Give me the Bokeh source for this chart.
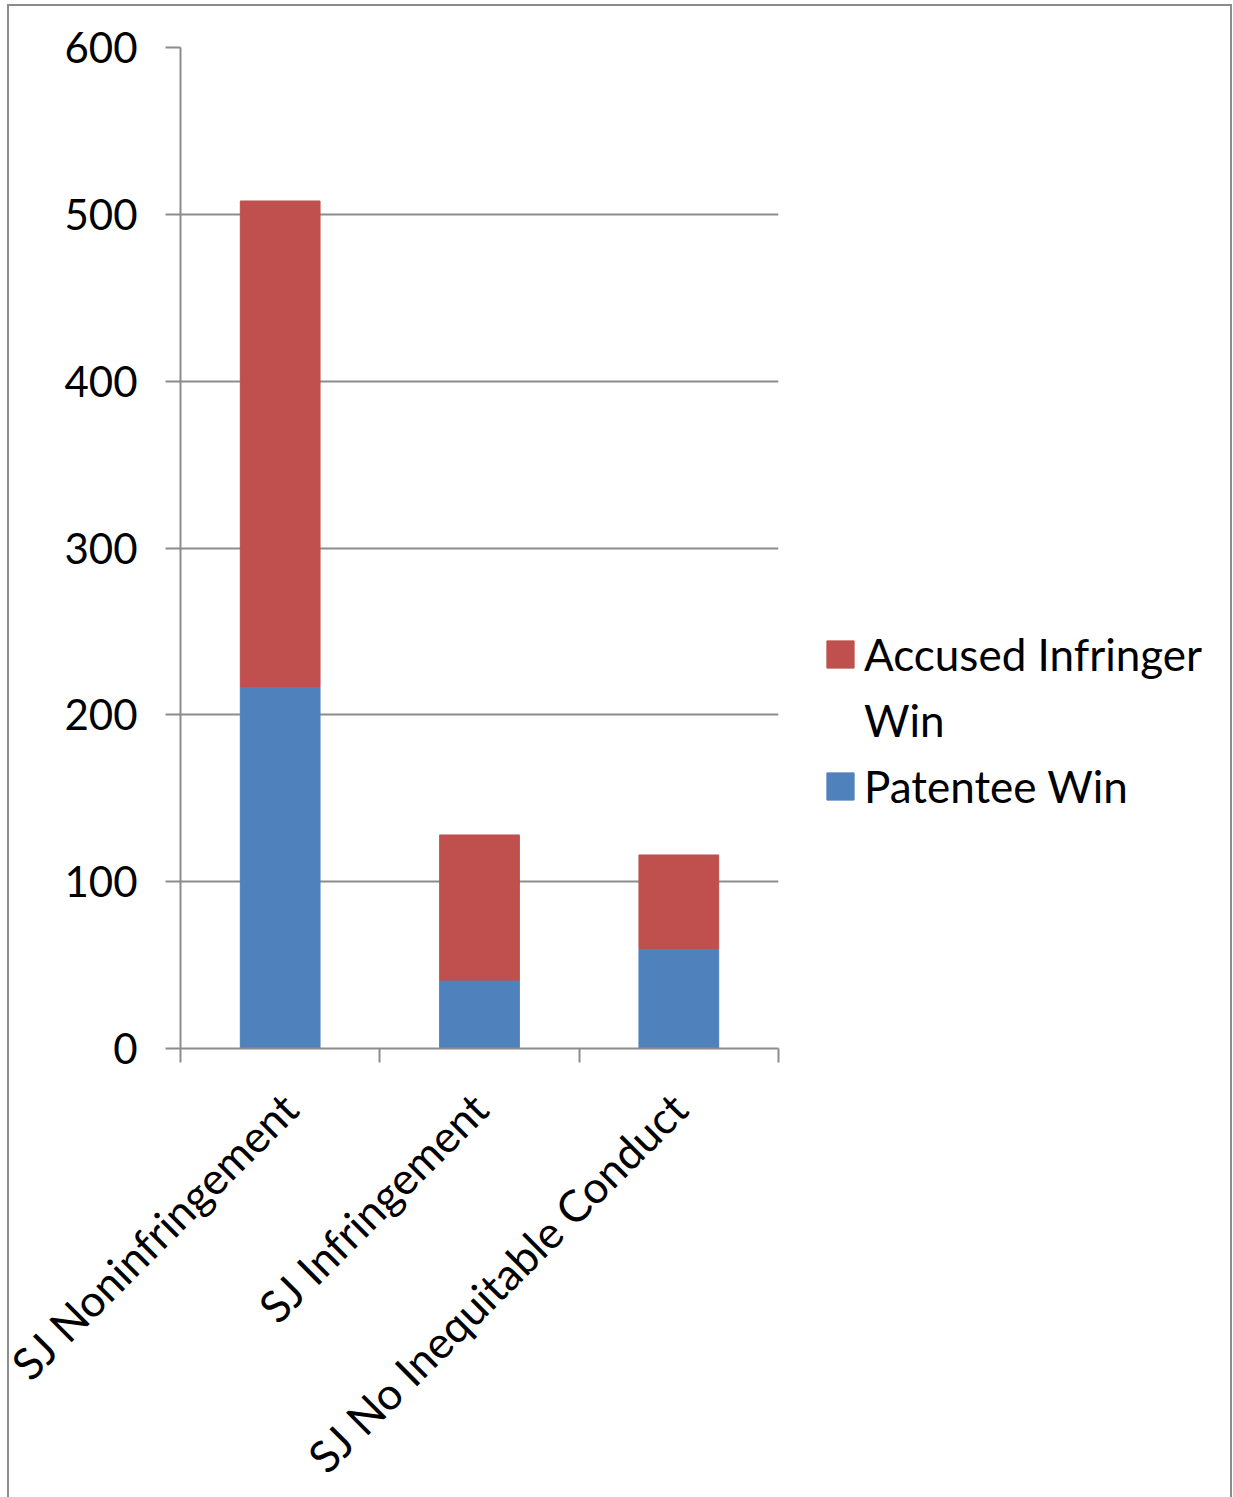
import math
from bokeh.plotting import figure
from bokeh.models import (ColumnDataSource, Range1d, FixedTicker, Legend, LegendItem)
from bokeh.embed import file_html
from bokeh.resources import INLINE

# Summary-judgment outcomes by motion type
categories = ["SJ Noninfringement", "SJ Infringement", "SJ No Inequitable Conduct"]
patentee_win = [217, 41, 60]
accused_infringer_win = [291, 87, 56]
y_ticks = [0, 100, 200, 300, 400, 500, 600]

RED = "#C0504D"
BLUE = "#4F81BD"
GRID = "#8C8C8C"
FONT = "Lato"

xs = [i + 0.5 for i in range(len(categories))]
totals = [a + b for a, b in zip(patentee_win, accused_infringer_win)]
src = ColumnDataSource(dict(x=xs, pat=patentee_win, acc=accused_infringer_win, tot=totals))

p = figure(output_backend="svg", toolbar_location=None,
           x_range=Range1d(0, len(categories)), y_range=Range1d(0, 600),
           frame_width=598, frame_height=1001,
           min_border_left=180, min_border_top=47,
           min_border_right=455, min_border_bottom=449)
# chart-area frame (left, top and right edges) painted behind a transparent canvas
line = "linear-gradient(#8C8C8C, #8C8C8C)"
p.styles = {
    "background-color": "white",
    "background-image": f"{line}, {line}, {line}",
    "background-size": "2px 100%, 1225px 2px, 2px 100%",
    "background-position": "7px 4px, 7px 4px, 1230px 4px",
    "background-repeat": "no-repeat",
}
p.outline_line_color = None
p.background_fill_color = "white"
p.border_fill_alpha = 0

r_pat = p.vbar(x="x", bottom=0, top="pat", width=0.4, source=src,
               fill_color=BLUE, line_color=BLUE)
r_acc = p.vbar(x="x", bottom="pat", top="tot", width=0.4, source=src,
               fill_color=RED, line_color=RED)
# empty renderer used for the wrapped second line of the legend label
r_blank = p.vbar(x=[], top=[], width=0.4, fill_alpha=0, line_alpha=0)

# y axis
p.yaxis.ticker = FixedTicker(ticks=y_ticks)
p.yaxis.axis_line_color = GRID
p.yaxis.axis_line_width = 2
p.yaxis.major_tick_line_color = GRID
p.yaxis.major_tick_line_width = 2
p.yaxis.major_tick_out = 15
p.yaxis.major_tick_in = 0
p.yaxis.minor_tick_line_color = None
p.yaxis.major_label_standoff = 28
p.yaxis.major_label_text_font = FONT
p.yaxis.major_label_text_font_size = "42px"
p.yaxis.major_label_text_color = "black"

# x axis: labels at category centres, ticks at category boundaries
p.xaxis.ticker = FixedTicker(ticks=xs, minor_ticks=list(range(len(categories) + 1)))
p.xaxis.major_label_overrides = {x: c for x, c in zip(xs, categories)}
p.xaxis.major_tick_line_color = None
p.xaxis.major_tick_out = 0
p.xaxis.major_tick_in = 0
p.xaxis.minor_tick_line_color = GRID
p.xaxis.minor_tick_line_width = 2
p.xaxis.minor_tick_out = 14
p.xaxis.minor_tick_in = 0
p.xaxis.axis_line_color = GRID
p.xaxis.axis_line_width = 2
p.xaxis.major_label_orientation = math.pi / 4
p.xaxis.major_label_standoff = 38
p.xaxis.major_label_text_font = FONT
p.xaxis.major_label_text_font_size = "44px"
p.xaxis.major_label_text_color = "black"

p.xgrid.grid_line_color = None
p.ygrid.ticker = FixedTicker(ticks=y_ticks[1:])
p.ygrid.grid_line_color = GRID
p.ygrid.grid_line_width = 2

legend = Legend(items=[LegendItem(label="Accused Infringer", renderers=[r_acc]),
                       LegendItem(label="Win", renderers=[r_blank]),
                       LegendItem(label="Patentee Win", renderers=[r_pat])],
                location=(45, 236))
legend.label_text_font = FONT
legend.label_text_font_size = "44px"
legend.label_text_color = "black"
legend.glyph_width = 34
legend.glyph_height = 34
legend.label_standoff = 7
legend.spacing = 14
legend.padding = 0
legend.margin = 0
legend.border_line_color = None
legend.background_fill_alpha = 0
p.add_layout(legend, "right")

open("out.html", "w").write(file_html(p, INLINE))
